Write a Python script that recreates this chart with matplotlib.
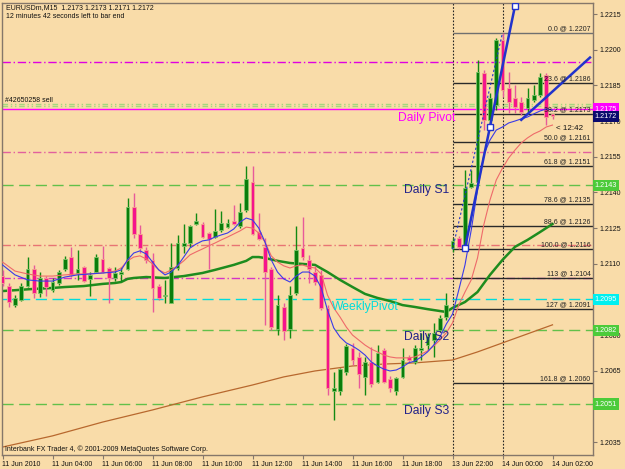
import matplotlib.pyplot as plt
from matplotlib import transforms

plt.rcParams['font.family'] = ['Liberation Sans', 'DejaVu Sans']

bg = '#F9DCA9'

# EURUSDm M15 candles, bar 0 = 11 Jun 02:00, bar 72 = 13 Jun 22:00
opens = [1.21048, 1.21006, 1.20926, 1.20947, 1.21006, 1.21078, 1.20977, 1.21040, 1.20989, 1.21019,
         1.21078, 1.21128, 1.21061, 1.21087, 1.21036, 1.21065, 1.21120, 1.21082, 1.21040, 1.21057,
         1.21078, 1.21338, 1.21225, 1.21158, 1.21116, 1.21006, 1.20964, 1.20935, 1.21082, 1.21175,
         1.21187, 1.21267, 1.21267, 1.21229, 1.21212, 1.21242, 1.21254, 1.21280, 1.21259, 1.21326,
         1.21444, 1.21233, 1.21171, 1.21078, 1.20825, 1.20918, 1.20825, 1.20977, 1.21166, 1.21116,
         1.21065, 1.21053, 1.20914, 1.20565, 1.20565, 1.20645, 1.20746, 1.20708, 1.20624, 1.20687,
         1.20603, 1.20737, 1.20615, 1.20565, 1.20624, 1.20708, 1.20687, 1.20737, 1.20758, 1.20779,
         1.20821, 1.20876, 1.21166, 1.21208, 1.21166, 1.21423, 1.21444, 1.21902, 1.21704, 1.21767,
         1.22041, 1.21839, 1.21797, 1.21780, 1.21755, 1.21788, 1.21809, 1.21894, 1.2173]
highs = [1.21074, 1.21019, 1.20968, 1.21019, 1.21128, 1.21095, 1.21065, 1.21048, 1.21040, 1.21074,
         1.21133, 1.21171, 1.21158, 1.21091, 1.21065, 1.21141, 1.21175, 1.21087, 1.21087, 1.21087,
         1.21376, 1.21397, 1.21263, 1.21171, 1.21146, 1.21015, 1.21032, 1.21187, 1.21221, 1.21267,
         1.21263, 1.21313, 1.21276, 1.21233, 1.21330, 1.21322, 1.21288, 1.21347, 1.21355, 1.21511,
         1.21511, 1.21313, 1.21208, 1.21087, 1.20968, 1.20935, 1.21006, 1.21259, 1.21296, 1.21137,
         1.21091, 1.21074, 1.20926, 1.20645, 1.20661, 1.20763, 1.20767, 1.20729, 1.20708, 1.20750,
         1.20758, 1.20746, 1.20628, 1.20624, 1.20746, 1.20716, 1.20758, 1.20809, 1.20809, 1.20851,
         1.20884, 1.20977, 1.21208, 1.21217, 1.21494, 1.21494, 1.21957, 1.21915, 1.21818, 1.22049,
         1.22070, 1.21906, 1.21851, 1.21801, 1.21839, 1.21851, 1.21902, 1.21902, 1.2173]
lows = [1.21006, 1.20918, 1.20918, 1.20943, 1.21002, 1.20956, 1.20960, 1.20964, 1.20981, 1.21011,
        1.21069, 1.21044, 1.21032, 1.21023, 1.20964, 1.21061, 1.21061, 1.20935, 1.21027, 1.21027,
        1.21074, 1.21208, 1.21146, 1.21103, 1.20897, 1.20947, 1.20935, 1.20935, 1.21074, 1.21146,
        1.21171, 1.21263, 1.21208, 1.21078, 1.21208, 1.21233, 1.21250, 1.21263, 1.21250, 1.21317,
        1.21221, 1.21200, 1.20842, 1.20821, 1.20800, 1.20779, 1.20788, 1.20968, 1.21116, 1.21019,
        1.21011, 1.20905, 1.20548, 1.20443, 1.20548, 1.20632, 1.20674, 1.20578, 1.20548, 1.20582,
        1.20599, 1.20599, 1.20561, 1.20548, 1.20620, 1.20687, 1.20678, 1.20695, 1.20737, 1.20708,
        1.20813, 1.20863, 1.21150, 1.21162, 1.21158, 1.21418, 1.21439, 1.21662, 1.21683, 1.21746,
        1.21801, 1.21734, 1.21734, 1.21725, 1.21738, 1.21780, 1.21801, 1.21683, 1.2171]
closes = [1.21019, 1.20939, 1.20956, 1.21006, 1.21078, 1.20977, 1.21040, 1.21002, 1.21023, 1.21065,
          1.21120, 1.21053, 1.21078, 1.21027, 1.21053, 1.21128, 1.21065, 1.21040, 1.21061, 1.21065,
          1.21338, 1.21225, 1.21166, 1.21116, 1.20998, 1.20956, 1.20968, 1.21087, 1.21187, 1.21187,
          1.21259, 1.21280, 1.21212, 1.21204, 1.21238, 1.21271, 1.21271, 1.21267, 1.21317, 1.21456,
          1.21225, 1.21204, 1.21065, 1.20834, 1.20926, 1.20817, 1.20968, 1.21158, 1.21128, 1.21078,
          1.21023, 1.20914, 1.20578, 1.20578, 1.20657, 1.20754, 1.20695, 1.20636, 1.20687, 1.20594,
          1.20725, 1.20603, 1.20578, 1.20620, 1.20695, 1.20695, 1.20746, 1.20746, 1.20796, 1.20809,
          1.20872, 1.20926, 1.21196, 1.21171, 1.21418, 1.21439, 1.21906, 1.21704, 1.21797, 1.22041,
          1.21830, 1.21780, 1.21759, 1.21738, 1.21797, 1.21809, 1.21885, 1.21717, 1.2172]

# moving averages
ma_bars = [0, 2, 4, 6, 8, 10, 12, 14, 16, 18] + list(range(19, 89))
fast_ma = [1.21095, 1.21053, 1.21032, 1.21027, 1.21027, 1.21044, 1.21053, 1.21057, 1.21061, 1.21065,
           1.21074, 1.21116, 1.21145, 1.21154, 1.21141, 1.21107, 1.21074, 1.21053, 1.21065, 1.21091,
           1.21128, 1.21166, 1.21183, 1.21196, 1.21200, 1.21212, 1.21221, 1.21229, 1.21246, 1.21275,
           1.21292, 1.21284, 1.21250, 1.21191, 1.21116, 1.21065, 1.21036, 1.21023, 1.21048, 1.21065,
           1.21065, 1.21048, 1.20998, 1.20905, 1.20830, 1.20792, 1.20767, 1.20754, 1.20737, 1.20716,
           1.20687, 1.20670, 1.20657, 1.20649, 1.20653, 1.20666, 1.20683, 1.20691, 1.20708, 1.20729,
           1.20758, 1.20792, 1.20846, 1.20888, 1.20989, 1.21095, 1.21242, 1.21410, 1.21557, 1.21620,
           1.21662, 1.21675, 1.21692, 1.21700, 1.21709, 1.21717, 1.21730, 1.21742, 1.21751, 1.21746]
slow_ma = [1.21107, 1.21069, 1.21057, 1.21048, 1.21048, 1.21053, 1.21057, 1.21057, 1.21061, 1.21069,
           1.21082, 1.21112, 1.21128, 1.21133, 1.21120, 1.21099, 1.21074, 1.21061, 1.21074, 1.21091,
           1.21112, 1.21137, 1.21150, 1.21162, 1.21175, 1.21187, 1.21200, 1.21212, 1.21225, 1.21238,
           1.21254, 1.21250, 1.21229, 1.21191, 1.21133, 1.21107, 1.21091, 1.21082, 1.21091, 1.21095,
           1.21086, 1.21082, 1.21057, 1.20968, 1.20914, 1.20876, 1.20834, 1.20800, 1.20779, 1.20758,
           1.20741, 1.20729, 1.20716, 1.20708, 1.20704, 1.20704, 1.20704, 1.20708, 1.20720, 1.20733,
           1.20754, 1.20779, 1.20809, 1.20851, 1.20926, 1.20981, 1.21032, 1.21124, 1.21263, 1.21368,
           1.21452, 1.21502, 1.21545, 1.21578, 1.21608, 1.21629, 1.21646, 1.21658, 1.21675, 1.21683]
green_bars = [0, 5, 8, 10, 13, 16, 18, 19, 20, 21, 23, 26, 29, 32, 34, 37, 39, 40, 41, 42, 44, 46,
              48, 50, 52, 54, 56, 58, 60, 62, 64, 66, 68, 70, 71, 72, 74, 76, 78, 80, 82, 84, 86, 88]
green_ma = [1.20985, 1.20994, 1.20998, 1.21002, 1.21006, 1.21015, 1.21019, 1.21023, 1.21036, 1.21040,
            1.21044, 1.21040, 1.21048, 1.21061, 1.21074, 1.21095, 1.21112, 1.21128, 1.21128, 1.21124,
            1.21112, 1.21103, 1.21099, 1.21095, 1.21065, 1.21032, 1.21002, 1.20973, 1.20956, 1.20943,
            1.20926, 1.20918, 1.20909, 1.20901, 1.20897, 1.20914, 1.20939, 1.20981, 1.21053, 1.21116,
            1.21171, 1.21200, 1.21233, 1.21267]
brown_bars = [0, 8, 16, 24, 32, 40, 45, 50, 56, 61, 66, 72, 76, 80, 84, 88]
brown_ma = [1.20329, 1.20376, 1.20434, 1.20485, 1.20540, 1.20590, 1.20624, 1.20649, 1.20670,
            1.20678, 1.20683, 1.20695, 1.20729, 1.20767, 1.20805, 1.20843]

# pivot and other horizontal levels
r_level = 1.2195
order_level = 1.2177
pivot_level = 1.2175
pink_level = 1.2157
s1_level = 1.2143
salmon_level = 1.2118
magenta_level = 1.2104
weekly_level = 1.2095
s2_level = 1.2082
s3_level = 1.2051

fibo_names = ['0.0', '23.6', '38.2', '50.0', '61.8', '78.6', '88.6', '100.0', '113', '127', '161.8']
fibo_prices = [1.2207, 1.2186, 1.2173, 1.2161, 1.2151, 1.2135, 1.2126, 1.2116, 1.2104, 1.2091, 1.2060]

# trend lines (bar, price)
trend1 = [(74, 1.21167), (78, 1.21676), (82, 1.22184)]
trend2 = [(83, 1.21705), (94, 1.21967)]
fibo_anchor = [(72, 1.2116), (80, 1.2207)]

tick_bars = [0, 8, 16, 24, 32, 40, 48, 56, 64, 72, 80, 88]
tick_labels = ['11 Jun 2010', '11 Jun 04:00', '11 Jun 06:00', '11 Jun 08:00', '11 Jun 10:00',
               '11 Jun 12:00', '11 Jun 14:00', '11 Jun 16:00', '11 Jun 18:00', '13 Jun 22:00',
               '14 Jun 00:00', '14 Jun 02:00']
price_ticks = [1.2035, 1.2050, 1.2065, 1.2080, 1.2095, 1.2110, 1.2125, 1.2140,
               1.2155, 1.2170, 1.2185, 1.2200, 1.2215]
# labels hidden behind the coloured price boxes
hidden_ticks = [1.2050, 1.2095]

box_prices = [1.2175, 1.2172, 1.2143, 1.2095, 1.2082, 1.2051]
box_colors = ['#FF00FF', '#0A0A6E', '#4CCB3A', '#00F0F0', '#4CCB3A', '#4CCB3A']

fig = plt.figure(figsize=(6.25, 4.69), dpi=100, facecolor=bg)
ax = fig.add_axes([2 / 625, 14 / 469, 591 / 625, 452 / 469], facecolor=bg)
ax.set_xlim(-0.08, 94.48)
ax.set_ylim(1.202956, 1.221963)

dd = (0, (6, 2, 1, 2))
ax.axhline(r_level, color='#E000E0', lw=1, ls=dd, zorder=1)
ax.axhline(order_level, color='#A6D77E', lw=1, ls=(0, (4, 2, 1, 2, 1, 2)), zorder=1)
ax.axhline(order_level - 0.00006, color='#A6D77E', lw=1, ls=(0, (4, 2, 1, 2, 1, 2)), zorder=1)
ax.axhline(pivot_level, color='#FF00FF', lw=1, zorder=1)
ax.axhline(pink_level, color='#E2609E', lw=1, ls=dd, zorder=1)
ax.axhline(s1_level, color='#62C04A', lw=1, ls=(0, (8, 4)), zorder=1)
ax.axhline(salmon_level, color='#E87474', lw=1, ls=dd, zorder=1)
ax.axhline(magenta_level, color='#D534C6', lw=1, ls=dd, zorder=1)
ax.axhline(weekly_level, color='#00DCDC', lw=1, ls=(0, (8, 4)), zorder=1)
ax.axhline(s2_level, color='#62C04A', lw=1, ls=(0, (8, 4)), zorder=1)
ax.axhline(s3_level, color='#62C04A', lw=1, ls=(0, (8, 4)), zorder=1)

for name, p in zip(fibo_names, fibo_prices):
    col = '#707070' if name == '0.0' else '#2a2a2a'
    ax.hlines(p, 72, 94.48, color=col, lw=1, zorder=2)
    ax.text(94.1, p + 0.00003, name + ' @ ' + format(p, '.4f'), fontsize=5, color='#222222',
            ha='right', va='bottom', zorder=6)

for b in [72, 80]:
    ax.axvline(b, color='#222222', lw=0.8, ls=(0, (1.5, 1.5)), zorder=2)

ax.plot(brown_bars, brown_ma, color='#B8682E', lw=0.9, zorder=2)
ax.plot(green_bars, green_ma, color='#1E8C1E', lw=1.8, zorder=2)

for i in range(len(opens)):
    o, h, l, c = opens[i], highs[i], lows[i], closes[i]
    if c >= o:
        body, edge, wick = '#0B7D0B', '#7DC46A', '#138A13'
    else:
        body, edge, wick = '#F5148C', '#F4A48A', '#E85A9A'
    ax.vlines(i, l, h, color=wick, lw=1, zorder=3)
    ax.bar(i, max(abs(c - o), 0.00003), bottom=min(o, c), width=0.62, color=body,
           edgecolor=edge, lw=0.6, zorder=3)

ax.plot(ma_bars, slow_ma, color='#EE6A6A', lw=0.8, zorder=4)
ax.plot(ma_bars, fast_ma, color='#3A3AE8', lw=0.8, zorder=4)

ax.plot([p[0] for p in fibo_anchor], [p[1] for p in fibo_anchor], color='#2233CC', lw=0.8,
        ls=(0, (2, 2)), zorder=5)
ax.plot([p[0] for p in trend1], [p[1] for p in trend1], color='#2233CC', lw=1.8, zorder=5)
ax.plot([p[0] for p in trend1], [p[1] for p in trend1], ls='none', marker='s', ms=4,
        mfc='white', mec='#2233CC', mew=1, zorder=6)
ax.plot([p[0] for p in trend2], [p[1] for p in trend2], color='#2233CC', lw=1.8, zorder=5)

ax.text(63.3, 1.21713, 'Daily Pivot', fontsize=8.7, color='#FF00FF', va='center', zorder=7)
ax.text(64.2, 1.21410, 'Daily S1', fontsize=8.7, color='#22228A', va='center', zorder=7)
ax.text(64.2, 1.20792, 'Daily S2', fontsize=8.7, color='#22228A', va='center', zorder=7)
ax.text(64.2, 1.20481, 'Daily S3', fontsize=8.7, color='#22228A', va='center', zorder=7)
ax.text(52.7, 1.20918, 'WeeklyPivot', fontsize=8.7, color='#00DCDC', va='center', zorder=7)
ax.text(0.4, 1.21788, '#42650258 sell', fontsize=5, color='#111111', va='center', zorder=7)
ax.text(88.6, 1.21667, '< 12:42', fontsize=5.8, color='#111111', va='center', zorder=7)

ax.text(0.005, 0.0133, 'Interbank FX Trader 4, \u00a9 2001-2009 MetaQuotes Software Corp.',
        transform=ax.transAxes, fontsize=5, color='#111111', va='center')
fig.text(6 / 625, 1 - 7.5 / 469, 'EURUSDm,M15  1.2173 1.2173 1.2171 1.2172', fontsize=5,
         color='#111111', va='center')
fig.text(6 / 625, 1 - 16.5 / 469, '12 minutes 42 seconds left to bar end', fontsize=5,
         color='#111111', va='center')

ax.yaxis.tick_right()
ax.set_yticks(price_ticks)
ax.set_yticklabels(['' if p in hidden_ticks else format(p, '.4f') for p in price_ticks])
ax.set_xticks(tick_bars)
ax.set_xticklabels(tick_labels, ha='left')
ax.tick_params(axis='both', direction='out', length=3, width=0.8, color='#85776A',
               labelsize=5, labelcolor='#111111', pad=1.5)

trans = transforms.blended_transform_factory(ax.transAxes, ax.transData)
for p, col in zip(box_prices, box_colors):
    ax.text(1.003, p, format(p, '.4f'), transform=trans, fontsize=5.2, color='white',
            ha='left', va='center', zorder=10, clip_on=False,
            bbox=dict(boxstyle='square,pad=0.3', fc=col, ec='none'))

for s in ax.spines.values():
    s.set_color('#85776A')
    s.set_linewidth(1)

fig.savefig('out.png', dpi=100, facecolor=bg)
